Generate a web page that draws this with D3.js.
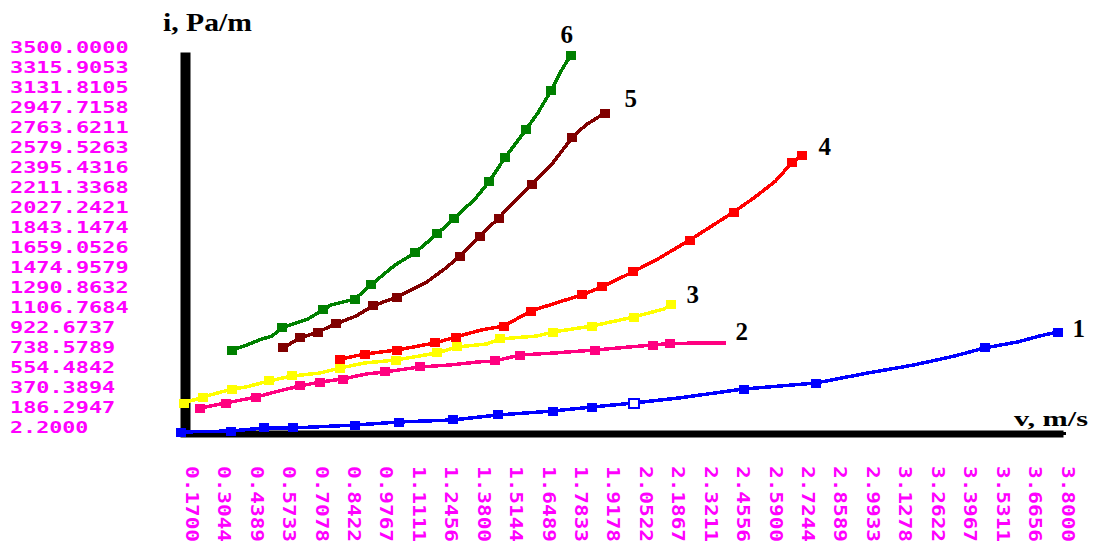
<!DOCTYPE html>
<html>
<head>
<meta charset="utf-8">
<script src="https://cdn.jsdelivr.net/npm/d3@7"></script>
<style>
  body { margin: 0; background: #fff; }
  svg { display: block; }
</style>
</head>
<body>
<svg id="chart" width="1093" height="543"></svg>
<script>
// Tick labels of the left value column and the rotated velocity row
const yLabels = ["3500.0000","3315.9053","3131.8105","2947.7158","2763.6211","2579.5263",
  "2395.4316","2211.3368","2027.2421","1843.1474","1659.0526","1474.9579","1290.8632",
  "1106.7684","922.6737","738.5789","554.4842","370.3894","186.2947","2.2000"];
const xLabels = ["0.1700","0.3044","0.4389","0.5733","0.7078","0.8422","0.9767","1.1111",
  "1.2456","1.3800","1.5144","1.6489","1.7833","1.9178","2.0522","2.1867","2.3211",
  "2.4556","2.5900","2.7244","2.8589","2.9933","3.1278","3.2622","3.3967","3.5311",
  "3.6656","3.8000"];

// Curve names
const curveNames = ["1","2","3","4","5","6"];

// Pressure loss i (Pa/m) against velocity v (m/s), one array per curve: [v, i]
const curve1 = [[0.123,0],[0.330,9],[0.467,37],[0.587,37],[0.844,64],[1.026,92],[1.250,111],
  [1.436,157],[1.664,193],[1.826,230],[2.000,267],[2.186,313],[2.455,396],[2.754,451],
  [2.969,543],[3.160,617],[3.330,700],[3.454,774],[3.591,829],[3.682,884],[3.757,921]];
const curve2 = [[0.202,221],[0.309,267],[0.434,322],[0.529,378],[0.616,424],[0.699,460],
  [0.794,488],[0.889,534],[0.968,553],[1.113,599],[1.237,617],[1.353,645],[1.423,654],
  [1.529,709],[1.672,728],[1.838,755],[1.983,783],[2.078,801],[2.149,815],[2.298,820],[2.381,822]];
const curve3 = [[0.135,267],[0.214,322],[0.334,396],[0.392,414],[0.487,470],[0.583,516],
  [0.699,543],[0.782,589],[0.885,636],[1.014,663],[1.184,728],[1.267,783],[1.391,811],
  [1.445,857],[1.598,884],[1.664,921],[1.826,976],[2.000,1059],[2.124,1133],[2.153,1170]];
const curve4 = [[0.782,672],[0.885,718],[1.018,755],[1.175,820],[1.262,875],[1.366,939],
  [1.461,976],[1.573,1114],[1.664,1179],[1.784,1262],[1.867,1336],[1.996,1474],[2.099,1593],
  [2.232,1768],[2.323,1897],[2.414,2026],[2.497,2155],[2.588,2312],[2.654,2478],[2.696,2551]];
const curve5 = [[0.545,774],[0.616,866],[0.690,921],[0.765,995],[0.848,1068],[0.918,1161],
  [1.018,1243],[1.142,1382],[1.221,1511],[1.279,1621],[1.362,1805],[1.440,1971],[1.494,2100],
  [1.577,2284],[1.664,2478],[1.743,2708],[1.801,2828],[1.880,2938]];
const curve6 = [[0.334,755],[0.396,801],[0.446,847],[0.500,884],[0.541,958],[0.599,1004],
  [0.649,1041],[0.711,1124],[0.745,1170],[0.844,1225],[0.910,1354],[1.010,1538],[1.092,1649],
  [1.184,1824],[1.254,1962],[1.345,2155],[1.399,2303],[1.465,2524],[1.552,2782],[1.602,2938],
  [1.656,3141],[1.701,3334],[1.739,3472]];

// Which points of each curve carry a marker
const marks1 = [0,1,2,3,4,5,6,7,8,9,10,12,13,17,20];
const marks2 = [0,1,2,4,5,6,8,9,12,13,15,17,18];
const marks3 = [0,1,2,4,5,7,9,10,11,13,15,16,17,19];
const marks4 = [0,1,2,3,4,6,7,9,10,11,13,15,18,19];
const marks5 = [0,1,2,3,5,6,9,10,11,13,15,17];
const marks6 = [0,4,7,9,10,12,13,14,16,17,18,20,22];
const hollow1 = [10];

const curves = [curve1, curve2, curve3, curve4, curve5, curve6];
const marks = [marks1, marks2, marks3, marks4, marks5, marks6];
const hollows = [hollow1, [], [], [], [], []];

// Styling
const colors = ["#0000ff", "#ff0080", "#ffff00", "#ff0000", "#800000", "#008000"];
const nameOffsets = [[21, 5], [16, -3], [22, -2], [23, 0], [26, -6], [-4, -12]];
const labelColor = "#ff00ff";

const svg = d3.select("#chart");
const x = d3.scaleLinear().domain([0.1, 3.8]).range([175.5, 1068]);
const y = d3.scaleLinear().domain([0, 3500]).range([432, 52]);

// Axes: heavy black lines without ticks
const xAxisScale = x.copy().domain([x.invert(180), x.invert(1063)]).range([180, 1063]);
const gx = svg.append("g").attr("transform", "translate(0,433.5)")
  .call(d3.axisBottom(xAxisScale).tickValues([]).tickSizeOuter(0));
gx.select(".domain").attr("stroke", "#000").attr("stroke-width", 7);
svg.append("rect").attr("x", xAxisScale.range()[1]).attr("y", 432).attr("width", 3).attr("height", 3).attr("fill", "#000");

const gy = svg.append("g").attr("transform", "translate(185,0)")
  .call(d3.axisLeft(y).tickValues([]).tickSizeOuter(0));
gy.select(".domain").attr("stroke", "#000").attr("stroke-width", 10);

// Axis titles
svg.append("text").attr("x", 163).attr("y", 31)
  .attr("font-family", "'Liberation Serif', serif").attr("font-weight", "bold")
  .attr("font-size", 25).attr("textLength", 89).attr("lengthAdjust", "spacingAndGlyphs")
  .attr("fill", "#000").text("i, Pa/m");
svg.append("text").attr("x", 1014).attr("y", 426)
  .attr("font-family", "'Liberation Serif', serif").attr("font-weight", "bold")
  .attr("font-size", 22).attr("textLength", 74).attr("lengthAdjust", "spacingAndGlyphs")
  .attr("fill", "#000").text("v, m/s");

// Value column on the left
svg.append("g").selectAll("text").data(yLabels).join("text")
  .attr("x", 10)
  .attr("y", d => y(+d) + 1)
  .attr("font-family", "'DejaVu Sans Mono', monospace").attr("font-weight", "bold")
  .attr("font-size", 15)
  .attr("textLength", d => d.length * 13.4 - 2).attr("lengthAdjust", "spacingAndGlyphs")
  .attr("fill", labelColor)
  .text(d => d);

// Rotated velocity labels along the bottom
svg.append("g").selectAll("text").data(xLabels).join("text")
  .attr("transform", d => `translate(${x(+d)},466) rotate(90)`)
  .attr("dominant-baseline", "central")
  .attr("font-family", "'DejaVu Sans Mono', monospace").attr("font-weight", "bold")
  .attr("font-size", 18)
  .attr("textLength", 76).attr("lengthAdjust", "spacingAndGlyphs")
  .attr("fill", labelColor)
  .text(d => d);

// Curves with their markers
const line = d3.line().x(d => x(d[0])).y(d => y(d[1]));
curves.forEach((pts, k) => {
  const g = svg.append("g");
  g.append("path").datum(pts)
    .attr("d", line)
    .attr("fill", "none")
    .attr("stroke", colors[k])
    .attr("stroke-width", 3.5)
    .attr("stroke-linejoin", "miter")
    .attr("shape-rendering", "crispEdges");
  g.selectAll("rect").data(marks[k].map(i => ({ p: pts[i], i }))).join("rect")
    .attr("x", d => x(d.p[0]) - 5)
    .attr("y", d => y(d.p[1]) - 4.5)
    .attr("width", 10).attr("height", 9)
    .attr("shape-rendering", "crispEdges")
    .attr("fill", d => hollows[k].includes(d.i) ? "#fff" : colors[k])
    .attr("stroke", d => hollows[k].includes(d.i) ? colors[k] : "none")
    .attr("stroke-width", 2);
  const last = pts[pts.length - 1];
  svg.append("text")
    .attr("x", x(last[0]) + nameOffsets[k][0])
    .attr("y", y(last[1]) + nameOffsets[k][1])
    .attr("text-anchor", "middle")
    .attr("font-family", "'Liberation Serif', serif").attr("font-weight", "bold")
    .attr("font-size", 25).attr("fill", "#000")
    .text(curveNames[k]);
});
</script>
</body>
</html>
